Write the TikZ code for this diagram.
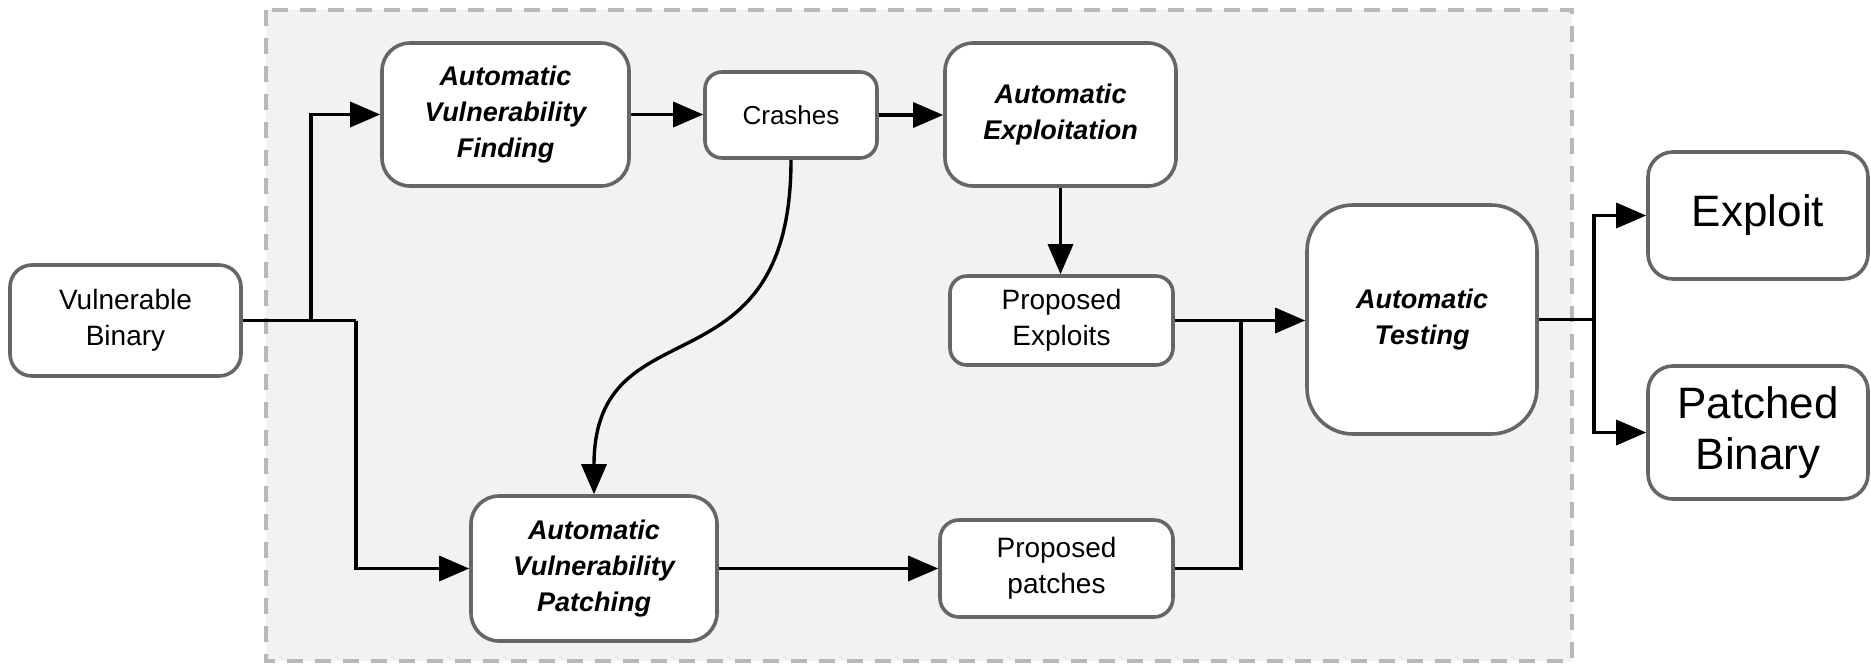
\documentclass[tikz,border=0pt]{standalone}
\usepackage{fontspec}
\setmainfont{Liberation Sans}
\usetikzlibrary{arrows.meta}
\definecolor{boxgray}{HTML}{666666}
\definecolor{dashgray}{HTML}{B8B8B8}
\definecolor{bggray}{HTML}{F2F2F2}
\begin{document}
\begin{tikzpicture}[x=1pt,y=-1pt,
  box/.style={draw=boxgray, line width=3.6pt, fill=white, align=center, inner sep=0pt},
  reg/.style={font=\fontsize{28}{36}\selectfont},
  bigtxt/.style={font=\fontsize{44}{51}\selectfont},
  bi/.style={font=\fontsize{27}{36}\selectfont\bfseries\itshape},
  conn/.style={line width=3.4pt, -{Triangle[length=30pt,width=25pt]}},
  plain/.style={line width=3.4pt}
]
\fill[white] (0,0) rectangle (1871,665);
\useasboundingbox (0,0) rectangle (1871,665);
\fill[bggray] (266,10) rectangle (1572,661);
\draw[dashgray, line width=4pt, dash pattern=on 16pt off 12pt] (266,10) rectangle (1572,661);

\node[box, reg, rounded corners=22pt, minimum width=231pt, minimum height=111pt] (vb) at (125.5,320.5) {\vspace*{7pt}Vulnerable\\Binary};
\node[box, bi, rounded corners=28pt, minimum width=247pt, minimum height=143pt] (avf) at (505.5,114.5) {\vspace*{6pt}Automatic\\Vulnerability\\Finding};
\node[box, reg, rounded corners=17pt, minimum width=172pt, minimum height=86pt, font=\fontsize{26}{32}\selectfont] (cr) at (791,115) {\vspace*{3pt}Crashes};
\node[box, bi, rounded corners=28pt, minimum width=231pt, minimum height=143pt] (ae) at (1060.5,114.5) {\vspace*{6pt}Automatic\\Exploitation};
\node[box, reg, rounded corners=17pt, minimum width=223pt, minimum height=89pt] (pe) at (1061.5,320.5) {\vspace*{6pt}Proposed\\Exploits};
\node[box, bi, rounded corners=46pt, minimum width=230pt, minimum height=229pt] (at) at (1422,319.5) {\vspace*{8pt}Automatic\\Testing};
\node[box, bigtxt, rounded corners=25pt, minimum width=220pt, minimum height=127pt] (ex) at (1758,215.5) {\vspace*{7pt}Exploit};
\node[box, bigtxt, rounded corners=25pt, minimum width=220pt, minimum height=133pt] (pb) at (1758,432.5) {\vspace*{6pt}Patched\\Binary};
\node[box, bi, rounded corners=28pt, minimum width=246pt, minimum height=145pt] (avp) at (594,568.5) {\vspace*{6pt}Automatic\\Vulnerability\\Patching};
\node[box, reg, rounded corners=19pt, minimum width=233pt, minimum height=97pt] (pp) at (1056.5,568.5) {\vspace*{6pt}Proposed\\patches};

\coordinate (j1) at (311,320.5);
\coordinate (j2) at (356,320.5);
\coordinate (j3) at (1241,320.5);
\coordinate (j4) at (1594,319.5);
\coordinate (c1) at (791,400);
\coordinate (c2) at (594,300);

\draw[plain] (vb.east) -- (j2);
\draw[conn] (j1) |- (avf.west);
\draw[conn] (j2) |- (avp.west);
\draw[conn] (avf.east) -- (avf.east -| cr.west);
\draw[conn] (cr.east) -- (cr.east -| ae.west);
\draw[conn] (cr.south) .. controls (c1) and (c2) .. (avp.north);
\draw[conn] (ae.south) -- (ae.south |- pe.north);
\draw[conn] (pe.east) -- (pe.east -| at.west);
\draw[plain] (pp.east) -| (j3);
\draw[conn] (avp.east) -- (pp.west);
\draw[plain] (at.east) -- (j4);
\draw[conn] (j4) |- (ex.west);
\draw[conn] (j4) |- (pb.west);
\end{tikzpicture}
\end{document}
